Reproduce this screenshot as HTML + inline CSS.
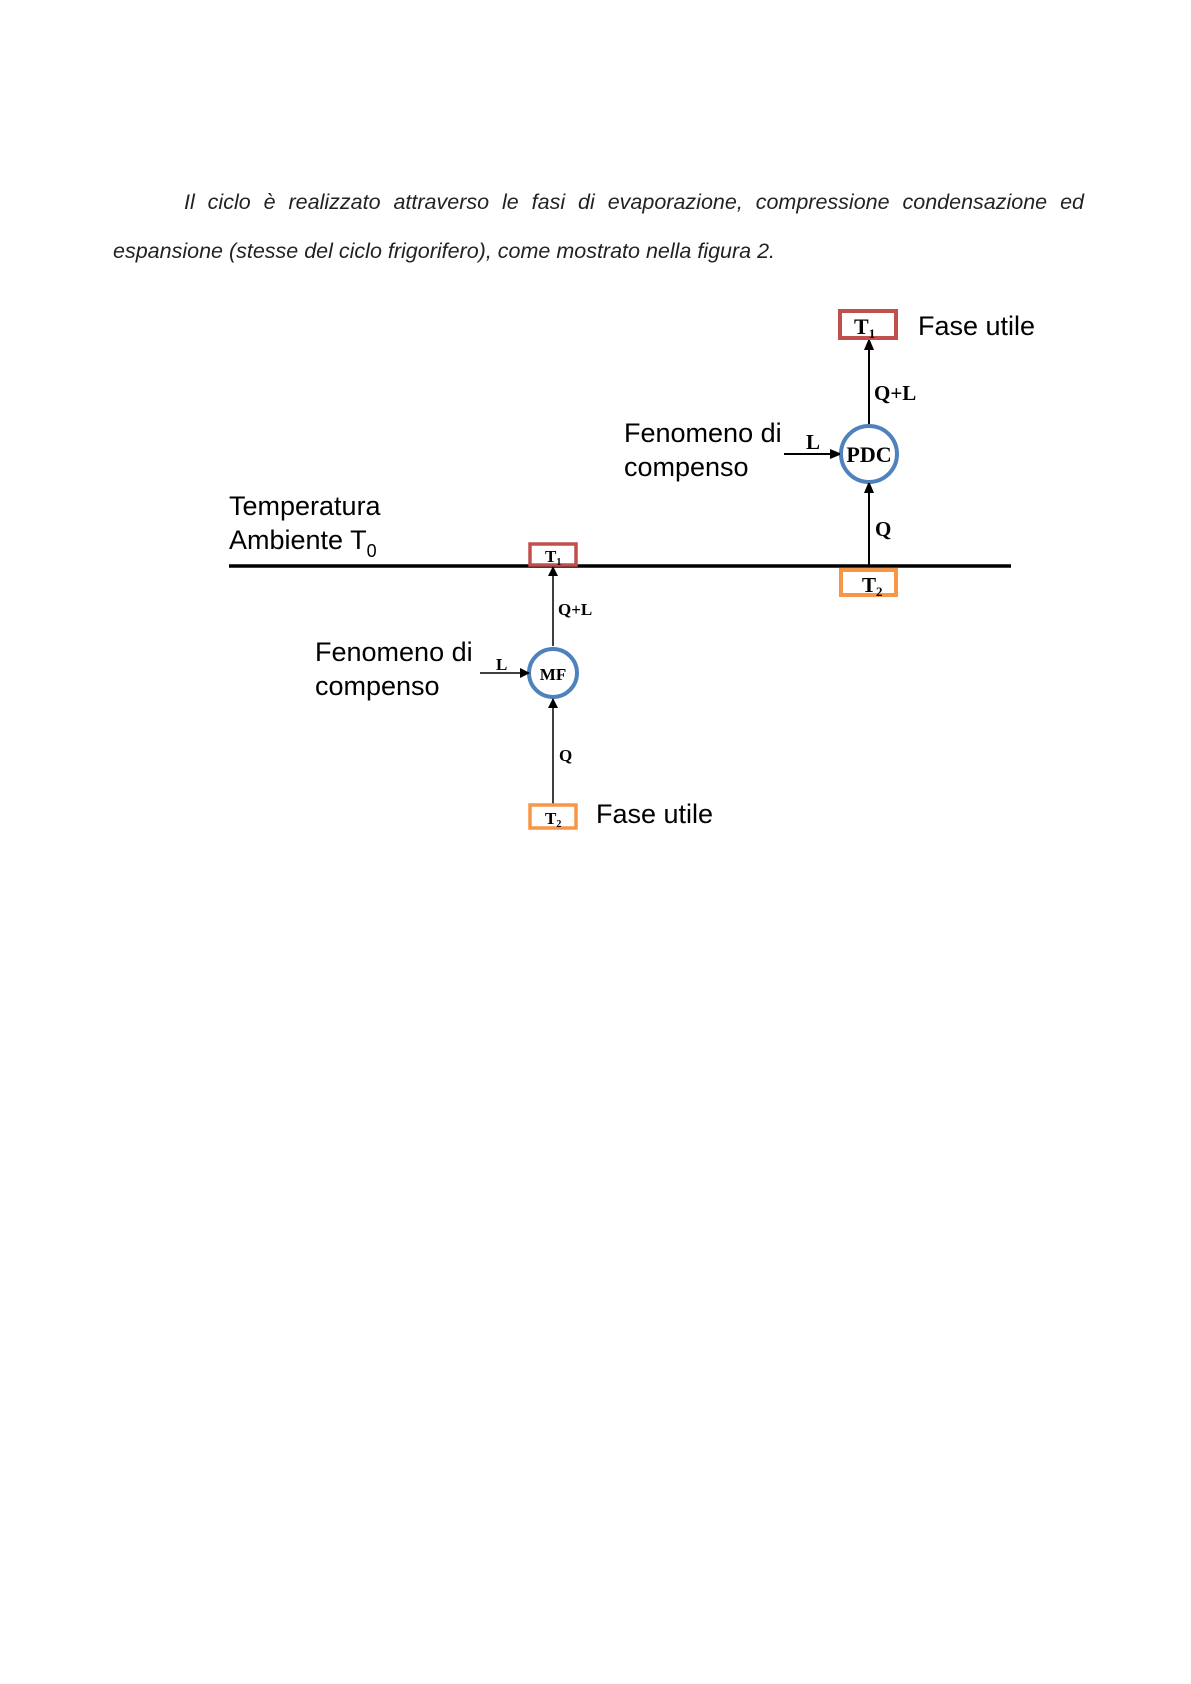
<!DOCTYPE html>
<html><head><meta charset="utf-8"><style>
html,body{margin:0;padding:0;background:#fff;}
body{width:1191px;height:1684px;position:relative;overflow:hidden;}
.p{position:absolute;font-family:"Liberation Sans",sans-serif;font-style:italic;font-size:21.5px;color:#222;white-space:nowrap;}
</style></head><body>
<div class="p" style="left:184px;top:190px;width:900px;text-align:justify;text-align-last:justify;white-space:normal;">Il ciclo è realizzato attraverso le fasi di evaporazione, compressione condensazione ed</div>
<div class="p" style="left:113px;top:239px;">espansione (stesse del ciclo frigorifero), come mostrato nella figura 2.</div>
<svg width="1191" height="1684" style="position:absolute;left:-3px;top:-2px" xmlns="http://www.w3.org/2000/svg">
<defs><marker id="a" markerWidth="10" markerHeight="10" refX="9" refY="5" orient="auto" markerUnits="userSpaceOnUse"><path d="M0,0 L10,5 L0,10z" fill="#000"/></marker>
<marker id="b" markerWidth="10" markerHeight="14" refX="9" refY="5" orient="auto" markerUnits="userSpaceOnUse"><path d="M0,0 L12,5 L0,10z" fill="#000"/></marker></defs>
<g font-family="Liberation Sans, sans-serif" font-size="27" fill="#000">
<line x1="232" y1="568" x2="1014" y2="568" stroke="#000" stroke-width="3.5"/>
<rect x="843" y="313" width="56" height="27" fill="#fff" stroke="#c0504d" stroke-width="4"/>
<text x="857" y="336" font-family="Liberation Serif, serif" font-weight="bold" font-size="22">T<tspan font-size="13" dy="4">1</tspan></text>
<text x="921" y="337">Fase utile</text>
<line x1="872" y1="426" x2="872" y2="343" stroke="#000" stroke-width="2" marker-end="url(#b)"/>
<text x="877" y="402" font-family="Liberation Serif, serif" font-weight="bold" font-size="21">Q+L</text>
<circle cx="872" cy="456" r="28" fill="#fff" stroke="#4f81bd" stroke-width="4"/>
<text x="872" y="464" text-anchor="middle" font-family="Liberation Serif, serif" font-weight="bold" font-size="22">PDC</text>
<line x1="787" y1="456" x2="842" y2="456" stroke="#000" stroke-width="2" marker-end="url(#b)"/>
<text x="809" y="451" font-family="Liberation Serif, serif" font-weight="bold" font-size="21">L</text>
<text x="627" y="444">Fenomeno di</text>
<text x="627" y="478">compenso</text>
<line x1="872" y1="567" x2="872" y2="486" stroke="#000" stroke-width="2" marker-end="url(#b)"/>
<text x="878" y="538" font-family="Liberation Serif, serif" font-weight="bold" font-size="21">Q</text>
<rect x="844" y="572" width="55" height="25" fill="#fff" stroke="#f79646" stroke-width="4"/>
<text x="865" y="594" font-family="Liberation Serif, serif" font-weight="bold" font-size="21">T<tspan font-size="13" dy="4">2</tspan></text>
<text x="232" y="517">Temperatura</text>
<text x="232" y="551">Ambiente T<tspan font-size="18" dy="8">0</tspan></text>
<rect x="533" y="546" width="46" height="21" fill="#fff" stroke="#c0504d" stroke-width="3.5"/>
<text x="548" y="564" font-family="Liberation Serif, serif" font-weight="bold" font-size="17">T<tspan font-size="10" dy="3">1</tspan></text>
<line x1="556" y1="648" x2="556" y2="569" stroke="#000" stroke-width="1.5" marker-end="url(#a)"/>
<text x="561" y="617" font-family="Liberation Serif, serif" font-weight="bold" font-size="17">Q+L</text>
<circle cx="556" cy="675" r="24" fill="#fff" stroke="#4f81bd" stroke-width="4"/>
<text x="556" y="682" text-anchor="middle" font-family="Liberation Serif, serif" font-weight="bold" font-size="17">MF</text>
<line x1="483" y1="675" x2="532" y2="675" stroke="#000" stroke-width="1.5" marker-end="url(#a)"/>
<text x="499" y="672" font-family="Liberation Serif, serif" font-weight="bold" font-size="17">L</text>
<text x="318" y="663">Fenomeno di</text>
<text x="318" y="697">compenso</text>
<line x1="556" y1="806" x2="556" y2="701" stroke="#000" stroke-width="1.5" marker-end="url(#a)"/>
<text x="562" y="763" font-family="Liberation Serif, serif" font-weight="bold" font-size="17">Q</text>
<rect x="533" y="807" width="46" height="23" fill="#fff" stroke="#f79646" stroke-width="3.5"/>
<text x="548" y="826" font-family="Liberation Serif, serif" font-weight="bold" font-size="17">T<tspan font-size="10" dy="3">2</tspan></text>
<text x="599" y="825">Fase utile</text>
</g></svg>
</body></html>
